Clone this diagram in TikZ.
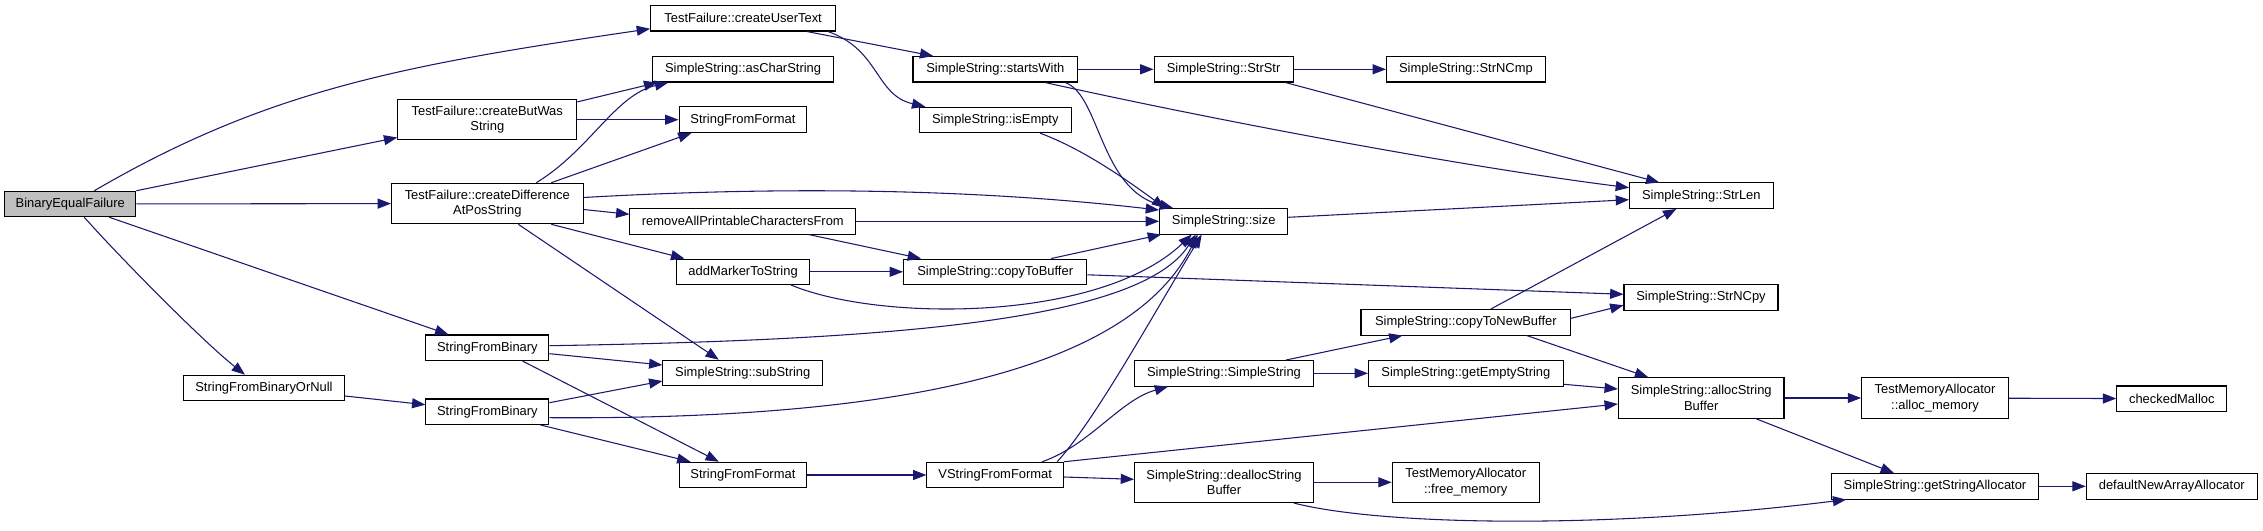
\documentclass[tikz,border=0pt]{standalone}
\usepackage{fontspec}
\setmainfont{Liberation Sans}
\usepackage{tikz}
\usetikzlibrary{arrows.meta, calc}
\definecolor{colorEdge}{HTML}{191970}
\definecolor{colorRoot}{HTML}{BFBFBF}
\tikzset{fn/.style={draw=black, line width=0.8pt, fill=white, inner sep=0pt, minimum height=19.1pt, align=center, font=\fontsize{9.7}{11.5}\selectfont},
  fn2/.style={fn, minimum height=30.4pt},
  boxw/.style={minimum width=#1*0.75pt},
  calls/.style={-{Triangle[length=10pt,width=7.5pt]}, draw=colorEdge, line width=0.8pt}}

\begin{document}
\begin{tikzpicture}[x=0.75pt, y=-0.75pt]
\useasboundingbox (0,0) rectangle (2263,531);
\node[fn, fill=colorRoot, boxw=131] (bef) at (70.3,204) {BinaryEqualFailure};
\node[fn2, boxw=179] (cbw) at (487.3,119.7) {TestFailure::createButWas\\String};
\node[fn2, boxw=191.5] (cdp) at (487.3,203.5) {TestFailure::createDifference\\AtPosString};
\node[fn, boxw=161] (sfbn) at (264,388) {StringFromBinaryOrNull};
\node[fn, boxw=123] (sfb1) at (487.4,347.7) {StringFromBinary};
\node[fn, boxw=123] (sfb2) at (487.4,411.7) {StringFromBinary};
\node[fn, boxw=185] (cut) at (743.1,18.3) {TestFailure::createUserText};
\node[fn, boxw=180.6] (acs) at (743.1,69.3) {SimpleString::asCharString};
\node[fn, boxw=127.7] (sff1) at (742.9,119.7) {StringFromFormat};
\node[fn, boxw=225.7] (rap) at (742.8,221.3) {removeAllPrintableCharactersFrom};
\node[fn, boxw=132.4] (amts) at (743.1,271.8) {addMarkerToString};
\node[fn, boxw=159.7] (ss) at (742.8,373) {SimpleString::subString};
\node[fn, boxw=127.7] (sff2) at (742.9,475) {StringFromFormat};
\node[fn, boxw=164.6] (sw) at (995.3,69.3) {SimpleString::startsWith};
\node[fn, boxw=152.5] (ie) at (995.3,120) {SimpleString::isEmpty};
\node[fn, boxw=183.3] (ctb) at (995.2,271.8) {SimpleString::copyToBuffer};
\node[fn, boxw=136.5] (vsff) at (995.2,475) {VStringFromFormat};
\node[fn, boxw=139] (strstr) at (1223.6,69.3) {SimpleString::StrStr};
\node[fn, boxw=128.2] (size) at (1223.7,221.3) {SimpleString::size};
\node[fn, boxw=178.8] (sscons) at (1224,373.3) {SimpleString::SimpleString};
\node[fn2, boxw=178.8] (dsb) at (1224,482.3) {SimpleString::deallocString\\Buffer};
\node[fn, boxw=158.8] (strncmp) at (1465.9,69.3) {SimpleString::StrNCmp};
\node[fn, boxw=209.7] (ctnb) at (1465.8,322.3) {SimpleString::copyToNewBuffer};
\node[fn, boxw=194.8] (ges) at (1465.9,373.3) {SimpleString::getEmptyString};
\node[fn2, boxw=147] (fm) at (1465.7,482.3) {TestMemoryAllocator\\::free\_memory};
\node[fn, boxw=143.5] (strlen) at (1701.3,195.7) {SimpleString::StrLen};
\node[fn, boxw=154] (strncpy) at (1701,297.3) {SimpleString::StrNCpy};
\node[fn2, boxw=165.6] (asb) at (1701.2,398) {SimpleString::allocString\\Buffer};
\node[fn2, boxw=146.8] (am) at (1935,398) {TestMemoryAllocator\\::alloc\_memory};
\node[fn, boxw=206.4] (gsa) at (1935,486.3) {SimpleString::getStringAllocator};
\node[fn, boxw=110] (cm) at (2171.8,398.7) {checkedMalloc};
\node[fn, boxw=171] (dnaa) at (2171.8,486.3) {defaultNewArrayAllocator};

\draw[calls] ($(bef.north)+(24,0)$) .. controls (267,90) and (403,65) .. ($(cut.west)+(0,10.5)$);
\draw[calls] (bef.north east) -- ($(cbw.south west)+(0,-3)$);
\draw[calls] (bef) -- (cdp);
\draw[calls] ($(bef.south)+(39,0)$) -- ($(sfb1.north)+(-39,0)$);
\draw[calls] ($(bef.south)+(14,0)$) .. controls (114,251) and (200,339) .. ($(sfbn.north)+(-19,0)$);
\draw[calls] ($(sfbn.east)+(0,8)$) -- ($(sfb2.west)+(0,-7)$);
\draw[calls] ($(cut.south)+(64,0)$) -- ($(sw.north)+(-62,0)$);
\draw[calls] ($(cut.south)+(85,0)$) .. controls (880,50) and (875,95) .. ($(ie.north)+(-70,0)$);
\draw[calls] ($(cbw.north east)+(0,3)$) -- ($(acs.south west)+(5,0)$);
\draw[calls] (cbw) -- (sff1);
\draw[calls] ($(cdp.north)+(49,0)$) .. controls (590,150) and (615,95) .. ($(acs.south west)+(16,0)$);
\draw[calls] ($(cdp.north)+(64,0)$) -- ($(sff1.south west)+(13,0)$);
\draw[calls] ($(cdp.east)+(0,-6)$) .. controls (750,188) and (950,186) .. ($(size.north west)+(0,2)$);
\draw[calls] ($(cdp.east)+(0,6)$) -- ($(rap.west)+(0,-7)$);
\draw[calls] ($(cdp.south)+(64,0)$) -- ($(amts.north west)+(8,0)$);
\draw[calls] ($(cdp.south)+(31,0)$) -- ($(ss.north)+(-24,0)$);
\draw[calls] ($(sfb1.east)+(0,-2)$) .. controls (900,340) and (1140,320) .. ($(size.south)+(-28,0)$);
\draw[calls] ($(sfb1.east)+(0,6)$) -- ($(ss.west)+(0,-8)$);
\draw[calls] ($(sfb1.south)+(35,0)$) -- ($(sff2.north)+(-24,0)$);
\draw[calls] ($(sfb2.east)+(0,6)$) .. controls (900,420) and (1130,370) .. ($(size.south)+(-26,0)$);
\draw[calls] ($(sfb2.east)+(0,-9)$) -- ($(ss.west)+(0,8)$);
\draw[calls] ($(sfb2.south east)+(-9,0)$) -- ($(sff2.north west)+(12,0)$);
\draw[calls] (sw) -- (strstr);
\draw[calls] ($(sw.south)+(70,0)$) .. controls (1100,95) and (1100,190) .. ($(size.north west)+(14,0)$);
\draw[calls] ($(sw.south)+(50,0)$) .. controls (1200,117) and (1450,165) .. ($(strlen.west)+(0,-8)$);
\draw[calls] (strstr) -- (strncmp);
\draw[calls] ($(strstr.south)+(62,0)$) -- ($(strlen.north)+(-42,0)$);
\draw[calls] ($(ie.south)+(45,0)$) .. controls (1080,148) and (1120,175) .. ($(size.north west)+(6,0)$);
\draw[calls] (rap) -- (size);
\draw[calls] ($(rap.south)+(66,0)$) -- ($(ctb.north west)+(18,0)$);
\draw[calls] (amts) -- (ctb);
\draw[calls] ($(amts.south)+(48,0)$) .. controls (880,322) and (1100,322) .. ($(size.south)+(-32,0)$);
\draw[calls] ($(ctb.north)+(56,0)$) -- ($(size.south west)+(2,0)$);
\draw[calls] ($(ctb.east)+(0,3)$) -- ($(strncpy.west)+(0,-3)$);
\draw[calls] ($(size.east)+(0,-4)$) -- ($(strlen.west)+(0,4)$);
\draw[calls] (sff2) -- (vsff);
\draw[calls] ($(vsff.north)+(62,0)$) .. controls (1095,420) and (1150,320) .. ($(size.south)+(-22,0)$);
\draw[calls] ($(vsff.north)+(47,0)$) .. controls (1090,445) and (1120,400) .. ($(sscons.south west)+(34,0)$);
\draw[calls] (vsff.north east) -- ($(asb.west)+(0,6)$);
\draw[calls] ($(vsff.east)+(0,2)$) -- ($(dsb.west)+(0,-3)$);
\draw[calls] ($(sscons.north)+(62,0)$) -- ($(ctnb.south west)+(42,0)$);
\draw[calls] (sscons) -- (ges);
\draw[calls] ($(ctnb.north)+(25,0)$) -- ($(strlen.south)+(-25,0)$);
\draw[calls] ($(ctnb.east)+(0,-4)$) -- ($(strncpy.west)+(0,8)$);
\draw[calls] ($(ctnb.south)+(61,0)$) -- ($(asb.north)+(-53,0)$);
\draw[calls] ($(ges.east)+(0,11)$) -- ($(asb.west)+(0,-9)$);
\draw[calls] (asb) -- (am);
\draw[calls] ($(asb.south)+(55,0)$) -- ($(gsa.north)+(-41,0)$);
\draw[calls] (am) -- (cm);
\draw[calls] (gsa) -- (dnaa);
\draw[calls] (dsb) -- (fm);
\draw[calls] ($(dsb.south)+(70,0)$) .. controls (1380,525) and (1600,530) .. ($(gsa.south west)+(15,0)$);
\end{tikzpicture}
\end{document}
